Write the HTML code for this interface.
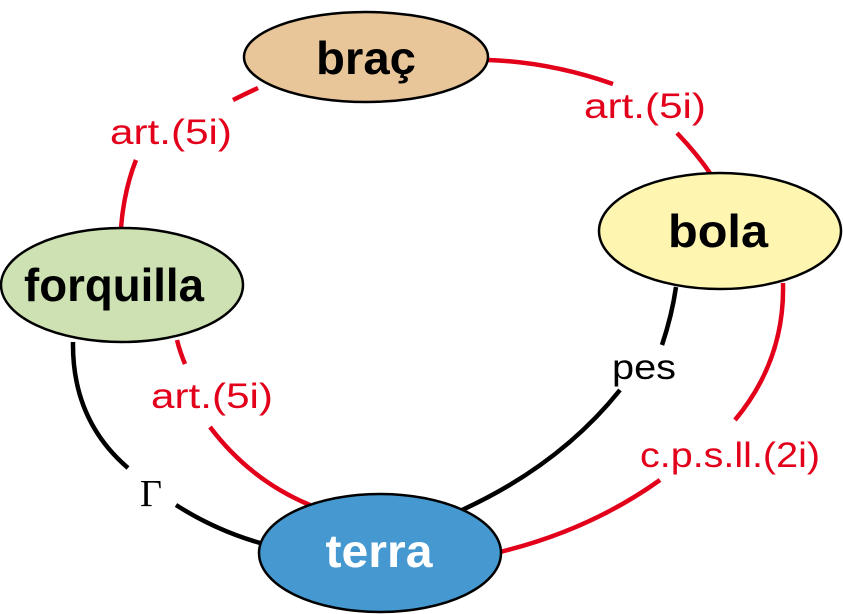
<!DOCTYPE html>
<html><head><meta charset="utf-8"><style>
html,body{margin:0;padding:0;background:#fff}
svg{display:block}
text{font-family:"Liberation Sans",sans-serif}
</style></head><body>
<svg width="843" height="614" viewBox="0 0 843 614" xmlns="http://www.w3.org/2000/svg">
<g fill="none" stroke-width="4.5">
<path d="M258 88 Q245 94 233 100" stroke="#e2001a"/>
<path d="M136 160 Q124 190 121 228" stroke="#e2001a"/>
<path d="M488 60 Q550 62 613 84" stroke="#e2001a"/>
<path d="M677 133 Q698 155 712 176" stroke="#e2001a"/>
<path d="M177 340 Q180 352 185 364" stroke="#e2001a"/>
<path d="M210 427 Q250 480 310 505" stroke="#e2001a"/>
<path d="M73 342 Q72 420 128 468" stroke="#000"/>
<path d="M176 505 Q215 530 260 543" stroke="#000"/>
<path d="M676 287 Q672 315 662 345" stroke="#000"/>
<path d="M620 390 Q560 465 462 510" stroke="#000"/>
<path d="M783 283 Q785 360 735 420" stroke="#e2001a"/>
<path d="M660 480 Q590 530 500 552" stroke="#e2001a"/>
</g>
<g stroke="#000" stroke-width="2.5">
<ellipse cx="366" cy="57" rx="122" ry="45" fill="#e9c699"/>
<ellipse cx="720" cy="231" rx="121" ry="58" fill="#fdf5b0"/>
<ellipse cx="122" cy="285" rx="121" ry="57" fill="#cde1b2"/>
<ellipse cx="380" cy="553" rx="121" ry="59" fill="#4599d0"/>
</g>
<g font-weight="bold" font-size="46" text-anchor="middle" lengthAdjust="spacingAndGlyphs">
<text x="366" y="74" textLength="100" lengthAdjust="spacingAndGlyphs">braç</text>
<text x="718" y="247" textLength="100" lengthAdjust="spacingAndGlyphs">bola</text>
<text x="114" y="301" textLength="180" lengthAdjust="spacingAndGlyphs">forquilla</text>
<text x="379" y="567" fill="#fff" textLength="107" lengthAdjust="spacingAndGlyphs">terra</text>
</g>
<g font-size="35" fill="#e2001a" text-anchor="middle">
<text x="171" y="144" textLength="122" lengthAdjust="spacingAndGlyphs">art.(5i)</text>
<text x="645" y="118" textLength="122" lengthAdjust="spacingAndGlyphs">art.(5i)</text>
<text x="212" y="408" textLength="122" lengthAdjust="spacingAndGlyphs">art.(5i)</text>
<text x="730" y="467" textLength="180" lengthAdjust="spacingAndGlyphs">c.p.s.ll.(2i)</text>
</g>
<text x="644" y="379" font-size="35" text-anchor="middle" textLength="64" lengthAdjust="spacingAndGlyphs">pes</text>
<text x="151" y="506" font-size="38" text-anchor="middle" style="font-family:'Liberation Serif',serif">Γ</text>
</svg>
</body></html>
